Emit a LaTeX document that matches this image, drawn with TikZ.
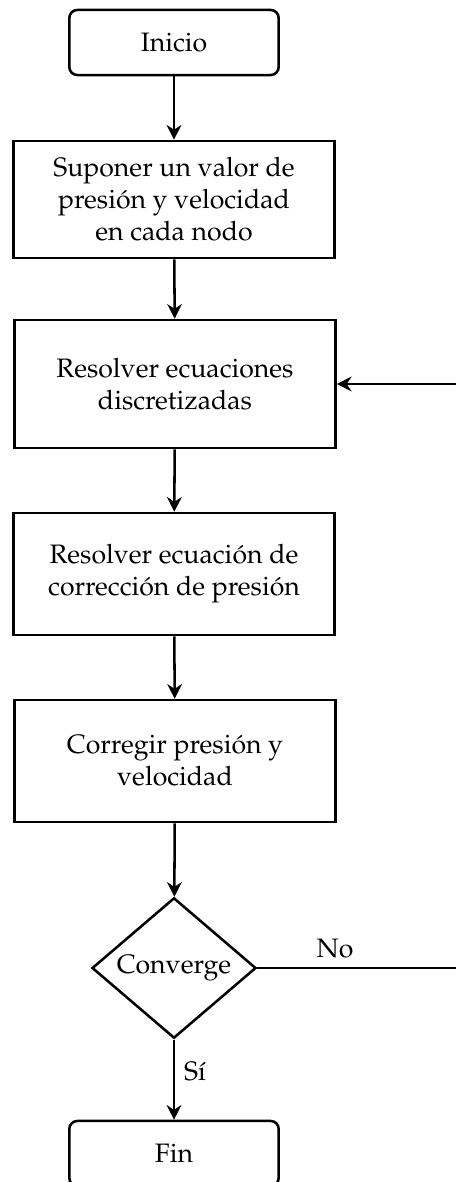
\documentclass[tikz,border=0pt]{standalone}
\usepackage[T1]{fontenc}
\usepackage{mathpazo}
\usetikzlibrary{shapes.geometric}
\usetikzlibrary{arrows.meta}
\usetikzlibrary{positioning}

\tikzset{
  inicfin/.style={draw, rounded corners=3pt, minimum width=78.5pt, minimum height=24.4pt},
  proceso/.style={draw, align=center, minimum width=120.4pt},
  decision/.style={draw, diamond, aspect=1, inner sep=0pt, minimum width=61.5pt},
  flecha/.style={-{Stealth[length=5.5pt, width=5.5pt, inset=1.8pt]}},
}

\begin{document}
\begin{tikzpicture}[x=0.375pt,y=-0.375pt,line width=0.95pt]
\useasboundingbox (0,0) rectangle (455,1182);

% nodos
\node[inicfin] (inicio) at (174,42.5) {Inicio};
\node[proceso, minimum height=43.9pt] (suponer) at (174,199.5)
  {Suponer un valor de\\presión y velocidad\\en cada nodo};
\node[proceso, minimum height=48pt] (resolver) at (175,384)
  {Resolver ecuaciones\\discretizadas};
\node[proceso, minimum height=45.75pt] (correccion) at (174,574)
  {Resolver ecuación de\\corrección de presión};
\node[proceso, minimum height=45.75pt] (corregir) at (175,761)
  {Corregir presión y\\velocidad};
\node[decision] (converge) at (174,968) {Converge};
\node[inicfin] (fin) at (174,1153.5) {Fin};
\coordinate (retorno) at (462,968);

% conectores
\draw[flecha] (inicio) -- (suponer);
\draw[flecha] (suponer) -- (resolver);
\draw[flecha] (resolver) -- (correccion);
\draw[flecha] (correccion) -- (corregir);
\draw[flecha] (corregir) -- (converge);
\draw[flecha] (converge) -- node[right, pos=0.4] {Sí} (fin);
\draw[flecha] (converge.east) -- node[above, pos=0.38] {No} (retorno)
  |- (resolver.east);
\end{tikzpicture}
\end{document}
